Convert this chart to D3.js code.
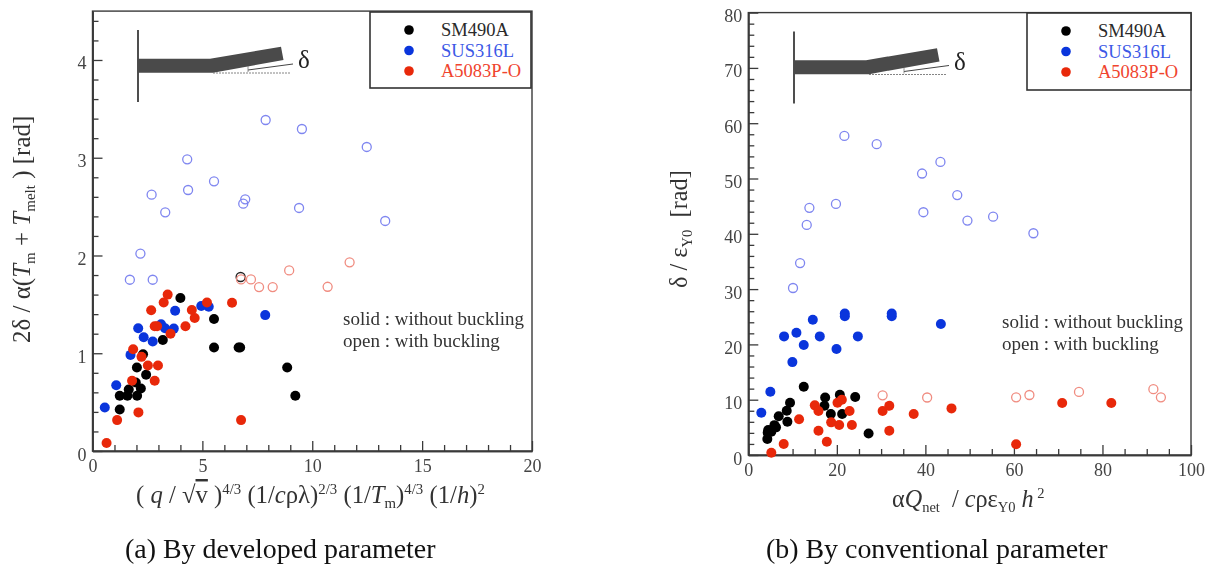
<!DOCTYPE html>
<html>
<head>
<meta charset="utf-8">
<script src="https://cdn.jsdelivr.net/npm/d3@7"></script>
<style>
  html, body { margin: 0; padding: 0; background: #fff; overflow: hidden; }
  svg { display: block; filter: blur(0.45px); font-family: "Liberation Serif", serif; }
</style>
</head>
<body>
<div id="chart"></div>
<script>
const materials = ["SM490A", "SUS316L", "A5083P-O"];

// (a) developed parameter
const aBlackSolid = [[1.24,.425],[1.24,.565],[1.59,.565],[1.65,.63],[2.03,.565],[2.2,.64],[1.97,.7],[2.44,.78],[2.02,.854],[2.3,.99],[3.2,1.136],[4,1.565],[5.53,1.35],[5.53,1.058],[6.65,1.058],[6.72,1.058],[8.86,.854],[9.23,.565]];
const aBlackOpen = [[6.74,1.78]];
const aBlueSolid = [[.56,.445],[1.08,.673],[1.73,.983],[2.08,1.255],[2.33,1.163],[2.74,1.12],[3.12,1.296],[3.3,1.255],[3.7,1.252],[3.76,1.435],[4.95,1.483],[5.29,1.476],[7.86,1.39]];
const aBlueOpen = [[7.88,3.386],[9.53,3.294],[12.48,3.11],[9.4,2.486],[13.32,2.353],[4.31,2.984],[2.69,2.622],[4.35,2.67],[5.53,2.759],[6.95,2.575],[6.86,2.53],[3.31,2.442],[2.18,2.02],[1.7,1.752],[2.74,1.752]];
const aRedSolid = [[.64,.082],[1.12,.316],[2.09,.395],[1.8,.718],[2.83,.718],[2.52,.874],[2.98,.874],[2.23,.963],[1.85,1.04],[3.55,1.2],[2.83,1.276],[2.94,1.276],[4.23,1.276],[4.65,1.36],[4.52,1.442],[2.67,1.44],[3.24,1.52],[3.42,1.6],[5.21,1.52],[6.35,1.517],[6.76,.316]];
const aRedOpen = [[6.76,1.755],[7.21,1.755],[7.58,1.677],[8.2,1.677],[8.95,1.847],[10.7,1.68],[11.7,1.93]];

// (b) conventional parameter
const bBlackSolid = [[4.3,2.9],[4.38,4.04],[5.2,4.2],[4.5,4.5],[5.9,5.4],[6.26,5],[6.87,7],[8.83,6],[8.68,8],[9.43,9.46],[12.53,12.35],[17.36,10.4],[17.2,8.9],[18.64,7.4],[20.68,10.9],[21.2,7.4],[24.15,10.5],[27.17,3.9]];
const bBlueSolid = [[2.94,7.65],[4.98,11.45],[9.96,16.8],[8.08,21.45],[10.87,22.1],[12.53,19.9],[14.57,24.46],[16.15,21.45],[19.92,19.16],[24.75,21.45],[21.8,25.6],[21.8,25.1],[32.4,25.6],[32.4,25.1],[43.5,23.7]];
const bBlueOpen = [[21.7,57.7],[29,56.2],[39.25,50.9],[43.4,53],[47.2,47],[39.55,43.9],[49.5,42.4],[19.8,45.4],[13.8,44.7],[13.2,41.6],[55.3,43.1],[64.4,40.1],[10.1,30.2],[11.7,34.7]];
const bRedSolid = [[5.2,.42],[8,1.99],[11.47,6.45],[15.02,8.98],[15.85,7.95],[15.85,4.4],[17.74,2.41],[18.72,5.9],[20.53,5.42],[20.15,9.46],[21.13,10],[22.87,7.95],[23.4,5.42],[30.34,7.95],[31.85,8.92],[31.85,4.4],[37.36,7.4],[45.9,8.43],[60.5,1.93],[70.9,9.4],[82,9.4]];
const bRedOpen = [[30.34,10.8],[40.4,10.4],[60.5,10.43],[63.5,10.85],[74.7,11.4],[91.5,11.9],[93.2,10.43]];

const aXMajor = [0, 5, 10, 15, 20];
const aYMajor = [0, 1, 2, 3, 4];
const bXMajor = [0, 20, 40, 60, 80, 100];
const bYMajor = [0, 10, 20, 30, 40, 50, 60, 70, 80];

const SOLID = { black: "#000", blue: "#0a35dc", red: "#e8280a" };
const OPEN = { black: "#222", blue: "#7f86f0", red: "#f08c80" };
const LEGEND_TEXT = ["#2a2a2a", "#3c58e6", "#f0442e"];
const INK = "#3a3a3a";
const LABEL = "#333";

const svg = d3.select("#chart").append("svg").attr("width", 1212).attr("height", 567);

// runs: [text, "i" | "sub" | "sup" | "over" | ""]
function richText(parent, runs, size) {
    const t = parent.append("text").attr("font-size", size).attr("fill", LABEL).attr("xml:space", "preserve");
    let shift = 0;
    runs.forEach(([str, kind]) => {
        const s = t.append("tspan").text(str);
        let target = 0;
        if (kind === "sub") { s.attr("font-size", size * 0.6); target = size * 0.2; }
        if (kind === "sup") { s.attr("font-size", size * 0.6); target = -size * 0.38; }
        if (kind === "i") s.attr("font-style", "italic");
        if (kind === "over") s.style("text-decoration", "overline");
        if (target !== shift) { s.attr("dy", target - shift); shift = target; }
    });
    return t;
}

function renderPanel(o) {
    const x = d3.scaleLinear().domain(o.xDomain).range(o.xRange);
    const y = d3.scaleLinear().domain(o.yDomain).range(o.yRange);
    const g = svg.append("g");

    const xMinor = d3.range(o.xDomain[0], o.xDomain[1] + 1e-9, o.xMinorStep).filter(v => !o.xMajor.includes(v));
    const yMinor = d3.range(o.yDomain[0], o.yDomain[1] + 1e-9, o.yMinorStep)
        .map(v => +v.toFixed(3)).filter(v => !o.yMajor.includes(v));

    // frame
    g.append("rect")
        .attr("x", o.xRange[0]).attr("y", o.yRange[1])
        .attr("width", o.xRange[1] - o.xRange[0]).attr("height", o.yRange[0] - o.yRange[1])
        .attr("fill", "none").attr("stroke", INK).attr("stroke-width", 1.4);

    const styleAxis = a => {
        a.select(".domain").attr("stroke", INK).attr("stroke-width", 1.6);
        a.selectAll("line").attr("stroke", INK).attr("stroke-width", 1.3);
        a.selectAll("text").attr("font-family", "Liberation Serif").attr("font-size", 18).attr("fill", "#444");
    };
    g.append("g").attr("transform", `translate(0,${o.yRange[0]})`)
        .call(d3.axisBottom(x).tickValues(xMinor).tickSize(-6).tickSizeOuter(0).tickFormat(""))
        .call(styleAxis);
    g.append("g").attr("transform", `translate(${o.xRange[0]},0)`)
        .call(d3.axisLeft(y).tickValues(yMinor).tickSize(-6).tickSizeOuter(0).tickFormat(""))
        .call(styleAxis);
    g.append("g").attr("transform", `translate(0,${o.yRange[0]})`)
        .call(d3.axisBottom(x).tickValues(o.xMajor).tickSize(-10).tickSizeOuter(0).tickPadding(8).tickFormat(d3.format("d")))
        .call(styleAxis);
    g.append("g").attr("transform", `translate(${o.xRange[0]},0)`)
        .call(d3.axisLeft(y).tickValues(o.yMajor).tickSize(-10).tickSizeOuter(0).tickPadding(6).tickFormat(d3.format("d")))
        .call(styleAxis)
        .call(a => a.selectAll("text").attr("dy", "0.5em"));

    // inset sketch of the distorted plate
    const ins = g.append("g").attr("transform", `translate(${o.inset[0]},${o.inset[1]})`);
    ins.append("line").attr("x1", 138).attr("x2", 138).attr("y1", 30).attr("y2", 102).attr("stroke", "#222").attr("stroke-width", 1.6);
    ins.append("path").attr("d", "M138,58.7L210,58.7L281,46.7L283.5,60L213,72.7L138,72.7Z").attr("fill", "#4a4a4a");
    ins.append("line").attr("x1", 213).attr("x2", 291).attr("y1", 73).attr("y2", 73).attr("stroke", "#666").attr("stroke-width", .8).attr("stroke-dasharray", "2 1");
    ins.append("line").attr("x1", 248).attr("x2", 293).attr("y1", 70).attr("y2", 64).attr("stroke", "#444").attr("stroke-width", 1);
    ins.append("line").attr("x1", 248).attr("x2", 248).attr("y1", 66).attr("y2", 72).attr("stroke", "#777").attr("stroke-width", .8);
    ins.append("text").attr("x", 298).attr("y", 68).attr("font-size", 25).attr("fill", "#222").text("δ");

    // points
    const openLayer = (pts, key) => g.append("g").selectAll("circle").data(pts).join("circle")
        .attr("cx", d => x(d[0])).attr("cy", d => y(d[1])).attr("r", 4.5)
        .attr("fill", "none").attr("stroke", OPEN[key]).attr("stroke-width", 1.3);
    const solidLayer = (pts, key) => g.append("g").selectAll("circle").data(pts).join("circle")
        .attr("cx", d => x(d[0])).attr("cy", d => y(d[1])).attr("r", 5)
        .attr("fill", SOLID[key]);
    openLayer(o.blackOpen || [], "black");
    openLayer(o.blueOpen, "blue");
    openLayer(o.redOpen, "red");
    solidLayer(o.blueSolid, "blue");
    solidLayer(o.blackSolid, "black");
    solidLayer(o.redSolid, "red");

    // legend
    const [lx, ly, lw, lh] = o.legend;
    const leg = g.append("g").attr("transform", `translate(${lx},${ly})`);
    leg.append("rect").attr("width", lw).attr("height", lh).attr("fill", "#fff").attr("stroke", "#333").attr("stroke-width", 1.6);
    const keys = ["black", "blue", "red"];
    materials.forEach((m, i) => {
        const rowY = 18 + i * 20.5;
        leg.append("circle").attr("cx", 39).attr("cy", rowY).attr("r", 4.8).attr("fill", SOLID[keys[i]]);
        leg.append("text").attr("x", 71).attr("y", rowY + 6).attr("font-size", 18.5).attr("fill", LEGEND_TEXT[i]).text(m);
    });

    // note
    const [nx, ny] = o.note;
    ["solid : without buckling", "open : with buckling"].forEach((s, i) => {
        g.append("text").attr("x", nx).attr("y", ny + i * 21.5).attr("font-size", 19).attr("fill", "#333").text(s);
    });

    richText(g, o.xLabel, o.xLabelSize).attr("x", o.xLabelPos[0]).attr("y", o.xLabelPos[1]);
    richText(g, o.yLabel, o.yLabelSize).attr("transform", `translate(${o.yLabelPos[0]},${o.yLabelPos[1]}) rotate(-90)`);
    g.append("text").attr("x", o.captionPos[0]).attr("y", o.captionPos[1]).attr("font-size", 27.9).attr("fill", "#111").text(o.caption);
}

renderPanel({
    xDomain: [0, 20], yDomain: [0, 4.5], xRange: [92.5, 532], yRange: [451, 11.1],
    xMajor: aXMajor, yMajor: aYMajor, xMinorStep: 1, yMinorStep: 0.2,
    blackSolid: aBlackSolid, blackOpen: aBlackOpen, blueSolid: aBlueSolid, blueOpen: aBlueOpen, redSolid: aRedSolid, redOpen: aRedOpen,
    inset: [0, 0], legend: [370, 12, 161, 76], note: [343, 325],
    xLabel: [["( ", ""], ["q", "i"], [" / √", ""], ["v", "over"], [" )", ""], ["4/3", "sup"], [" (1/", ""], ["c", "i"], ["ρλ)", ""], ["2/3", "sup"], [" (1/", ""], ["T", "i"], ["m", "sub"], [")", ""], ["4/3", "sup"], [" (1/", ""], ["h", "i"], [")", ""], ["2", "sup"]],
    xLabelSize: 24.7, xLabelPos: [136, 503],
    yLabel: [["2δ / α(", ""], ["T", "i"], ["m", "sub"], [" + ", ""], ["T", "i"], ["melt", "sub"], [" ) [rad]", ""]],
    yLabelSize: 25, yLabelPos: [30, 343],
    caption: "(a) By developed parameter", captionPos: [125, 558]
});

renderPanel({
    xDomain: [0, 100], yDomain: [0, 80], xRange: [748.3, 1191], yRange: [455, 12.6],
    xMajor: bXMajor, yMajor: bYMajor, xMinorStep: 5, yMinorStep: 2,
    blackSolid: bBlackSolid, blueSolid: bBlueSolid, blueOpen: bBlueOpen, redSolid: bRedSolid, redOpen: bRedOpen,
    inset: [656, 1.5], legend: [1027, 13, 164, 77], note: [1002, 328],
    xLabel: [["α", ""], ["Q", "i"], ["net", "sub"], ["  / ", ""], ["c", "i"], ["ρε", ""], ["Y0", "sub"], [" ", ""], ["h", "i"], [" 2", "sup"]],
    xLabelSize: 24.2, xLabelPos: [892, 507],
    yLabel: [["δ / ε", ""], ["Y0", "sub"], ["  [rad]", ""]],
    yLabelSize: 24.3, yLabelPos: [687, 288],
    caption: "(b) By conventional parameter", captionPos: [766, 558]
});
</script>
</body>
</html>
